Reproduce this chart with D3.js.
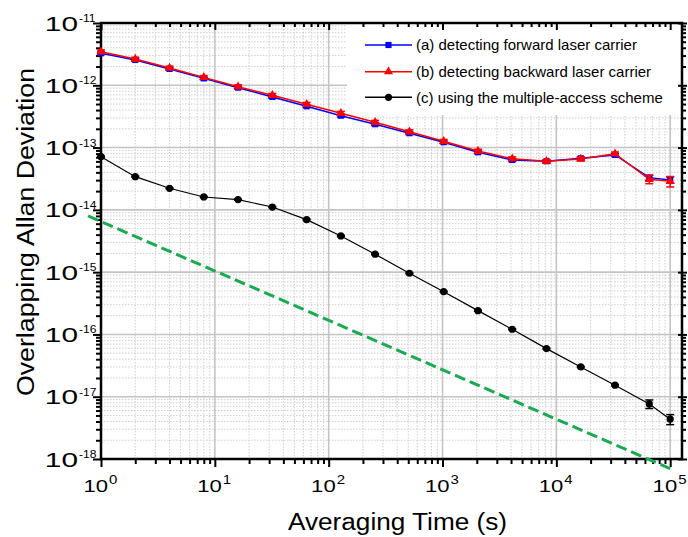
<!DOCTYPE html>
<html><head><meta charset="utf-8">
<script src="https://cdn.jsdelivr.net/npm/d3@7"></script>
<style>
body{margin:0;background:#fff}
svg{display:block}
text{font-family:"Liberation Sans",Arial,Helvetica,sans-serif;fill:#000}
</style>
</head><body>
<svg id="chart" width="688" height="537"></svg>
<script>
// ---- data ----
const taus = [1,2,4,8,16,32,64,128,256,512,1024,2048,4096,8192,16384,32768,65536,100000];
const forwardDev = [3.27e-12,2.55e-12,1.83e-12,1.29e-12,9.16e-13,6.49e-13,4.60e-13,3.25e-13,2.37e-13,1.70e-13,1.22e-13,8.4e-14,6.32e-14,6.03e-14,6.73e-14,7.6e-14,3.29e-14,3.02e-14];
const forwardErr = [1.6e-13,1.2e-13,0.9e-13,0.6e-13,0.45e-13,0.32e-13,0.23e-13,0.16e-13,0.12e-13,0.85e-14,0.6e-14,0.42e-14,0.32e-14,0.3e-14,0.34e-14,0.38e-14,0.3e-14,0.35e-14];
const backwardDev = [3.46e-12,2.64e-12,1.90e-12,1.34e-12,9.5e-13,6.91e-13,4.95e-13,3.55e-13,2.55e-13,1.80e-13,1.26e-13,8.8e-14,6.64e-14,6.03e-14,6.56e-14,7.98e-14,3.10e-14,2.88e-14];
const backwardErr = [2.4e-13,1.8e-13,1.3e-13,0.9e-13,0.65e-13,0.48e-13,0.35e-13,0.25e-13,0.18e-13,1.3e-14,0.9e-14,0.6e-14,0.45e-14,0.4e-14,0.45e-14,0.5e-14,0.47e-14,0.55e-14];
const multiDev = [7.14e-14,3.41e-14,2.22e-14,1.61e-14,1.46e-14,1.11e-14,6.96e-15,3.81e-15,1.94e-15,9.6e-16,4.86e-16,2.41e-16,1.21e-16,5.92e-17,3.01e-17,1.53e-17,7.66e-18,4.36e-18];
const multiErr = [1.5e-15,0.7e-15,0.45e-15,0.32e-15,0.3e-15,0.22e-15,0.14e-15,0.8e-16,0.4e-16,0.2e-16,1.0e-17,5e-18,2.5e-18,1.2e-18,0.6e-18,0.35e-18,1.2e-18,0.8e-18];
const refLineTau = [0.77, 100000];
const refLineDev = [8.0e-15, 7.0e-19];
const xTickExps = [0,1,2,3,4,5];
const yTickExps = [-11,-12,-13,-14,-15,-16,-17,-18];
const legendLabels = ["(a) detecting forward laser carrier","(b) detecting backward laser carrier","(c) using the multiple-access scheme"];

// ---- layout ----
const L = 101, R = 682, T = 23, B = 459;
const svg = d3.select("#chart");
const x = d3.scaleLog().domain([1, 127000]).range([L, R]);
const y = d3.scaleLog().domain([1e-18, 1e-11]).range([B, T]);

// grid
const xAll = x.ticks().filter(v => v >= 1 && v <= 1e5);
const yAll = y.ticks();
const isMajor = v => Math.abs(Math.log10(v) - Math.round(Math.log10(v))) < 1e-9;
const xMinor = xAll.filter(v => !isMajor(v)), xMajor = xAll.filter(isMajor);
const yMinor = yAll.filter(v => !isMajor(v)), yMajor = yAll.filter(isMajor);

const grid = svg.append("g");
grid.selectAll(".gxm").data(xMinor).join("line")
  .attr("x1", d => x(d)).attr("x2", d => x(d)).attr("y1", T).attr("y2", B)
  .attr("stroke", "#cfcfcf").attr("stroke-width", 1).attr("stroke-dasharray", "1.5,1.5");
grid.selectAll(".gym").data(yMinor).join("line")
  .attr("y1", d => y(d)).attr("y2", d => y(d)).attr("x1", L).attr("x2", R)
  .attr("stroke", "#cfcfcf").attr("stroke-width", 1).attr("stroke-dasharray", "1.5,1.5");
grid.selectAll(".gxM").data(xMajor.filter(v => v > 1)).join("line")
  .attr("x1", d => x(d)).attr("x2", d => x(d)).attr("y1", T).attr("y2", B)
  .attr("stroke", "#c4c4c4").attr("stroke-width", 1.6);
grid.selectAll(".gyM").data(yMajor.filter(v => v > 1e-18 && v < 1e-11)).join("line")
  .attr("y1", d => y(d)).attr("y2", d => y(d)).attr("x1", L).attr("x2", R)
  .attr("stroke", "#c4c4c4").attr("stroke-width", 1.6);

// legend background
svg.append("rect").attr("x", 347).attr("y", 24).attr("width", 334).attr("height", 91).attr("fill", "#fff");

// axes ticks via d3 axes
function axisG(gen, tx, ty) {
  const g = svg.append("g").attr("transform", `translate(${tx},${ty})`).call(gen);
  g.select(".domain").remove();
  g.selectAll("line").attr("stroke", "#000").attr("stroke-width", 2);
  return g;
}
axisG(d3.axisBottom(x).tickValues(xMinor).tickSize(5).tickFormat(""), 0, B);
axisG(d3.axisBottom(x).tickValues(xMajor).tickSize(8).tickFormat(""), 0, B);
axisG(d3.axisTop(x).tickValues(xMinor).tickSize(-4).tickFormat(""), 0, T);
axisG(d3.axisTop(x).tickValues(xMajor).tickSize(-7).tickFormat(""), 0, T);
axisG(d3.axisLeft(y).tickValues(yMinor).tickSize(5).tickFormat(""), L, 0);
axisG(d3.axisLeft(y).tickValues(yMajor).tickSize(8).tickFormat(""), L, 0);
axisG(d3.axisRight(y).tickValues(yMinor).tickSize(4).tickFormat(""), R, 0);
axisG(d3.axisRight(y).tickValues(yMajor).tickSize(5).tickFormat(""), R, 0);
axisG(d3.axisRight(y).tickValues(yMajor).tickSize(-4).tickFormat(""), R, 0);

// frame
svg.append("rect").attr("x", L).attr("y", T).attr("width", R - L).attr("height", B - T)
  .attr("fill", "none").attr("stroke", "#000").attr("stroke-width", 2.5);

// tick labels
xTickExps.forEach(e => {
  const px = x(Math.pow(10, e));
  svg.append("text").text("10").attr("font-size", 17).attr("text-anchor", "end")
    .attr("transform", `translate(${px + 7},492) scale(1.3,1)`);
  svg.append("text").text(String(e)).attr("font-size", 12.5).attr("text-anchor", "start")
    .attr("transform", `translate(${px + 8},483.5) scale(1.2,1)`);
});
yTickExps.forEach(e => {
  const py = y(Math.pow(10, e));
  svg.append("text").text("10").attr("font-size", 21).attr("text-anchor", "end")
    .attr("transform", `translate(78,${py + 7.5}) scale(1.42,1)`);
  svg.append("text").text("-" + String(-e)).attr("font-size", 10.5).attr("text-anchor", "start")
    .attr("transform", `translate(79,${py - 1}) scale(1.15,1)`);
});

// axis titles
svg.append("text").text("Averaging Time (s)").attr("font-size", 23.5)
  .attr("text-anchor", "middle").attr("x", 397.5).attr("y", 530)
  .attr("textLength", 219).attr("lengthAdjust", "spacingAndGlyphs");
svg.append("text").text("Overlapping Allan Deviation").attr("font-size", 23.5)
  .attr("text-anchor", "middle").attr("transform", "translate(33.5,232) rotate(-90)")
  .attr("textLength", 328).attr("lengthAdjust", "spacingAndGlyphs");

// reference dashed line
svg.append("line")
  .attr("x1", x(refLineTau[0])).attr("y1", y(refLineDev[0]))
  .attr("x2", x(refLineTau[1])).attr("y2", y(refLineDev[1]))
  .attr("stroke", "#1aab50").attr("stroke-width", 3).attr("stroke-dasharray", "11,5");

// series
const series = [
  {vals: forwardDev, err: forwardErr, color: "#0000ff", marker: "square", lw: 1.5},
  {vals: backwardDev, err: backwardErr, color: "#ff0000", marker: "triangle", lw: 1.5},
  {vals: multiDev, err: multiErr, color: "#000000", marker: "circle", lw: 1.2}
];
const line = d3.line().x(d => x(d[0])).y(d => y(d[1]));
function drawMarker(g, type, color, cx, cy) {
  if (type === "square") {
    g.append("path").attr("d", d3.symbol(d3.symbolSquare, 38)()).attr("transform", `translate(${cx},${cy})`).attr("fill", color);
  } else if (type === "triangle") {
    g.append("path").attr("d", d3.symbol(d3.symbolTriangle, 36)()).attr("transform", `translate(${cx},${cy})`).attr("fill", color);
  } else {
    g.append("circle").attr("cx", cx).attr("cy", cy).attr("r", 3.6).attr("fill", color);
  }
}
series.forEach(s => {
  const g = svg.append("g");
  const pts = taus.map((t, i) => [t, s.vals[i]]);
  g.append("path").datum(pts).attr("d", line).attr("fill", "none").attr("stroke", s.color).attr("stroke-width", s.lw);
  taus.forEach((t, i) => {
    const cx = x(t), y1 = y(s.vals[i] + s.err[i]), y2 = y(s.vals[i] - s.err[i]);
    g.append("line").attr("x1", cx).attr("x2", cx).attr("y1", y1).attr("y2", y2).attr("stroke", s.color).attr("stroke-width", 1.5);
    g.append("line").attr("x1", cx - 4).attr("x2", cx + 4).attr("y1", y1).attr("y2", y1).attr("stroke", s.color).attr("stroke-width", 1.5);
    g.append("line").attr("x1", cx - 4).attr("x2", cx + 4).attr("y1", y2).attr("y2", y2).attr("stroke", s.color).attr("stroke-width", 1.5);
    drawMarker(g, s.marker, s.color, cx, y(s.vals[i]));
  });
});

// legend
const legRows = [45, 71.7, 97.3];
series.forEach((s, i) => {
  const ly = legRows[i];
  svg.append("line").attr("x1", 365).attr("x2", 412).attr("y1", ly).attr("y2", ly).attr("stroke", s.color).attr("stroke-width", 1.5);
  drawMarker(svg, s.marker, s.color, 388.5, ly);
  svg.append("text").text(legendLabels[i]).attr("x", 416).attr("y", ly + 5.3).attr("font-size", 15);
});
</script>
</body></html>
